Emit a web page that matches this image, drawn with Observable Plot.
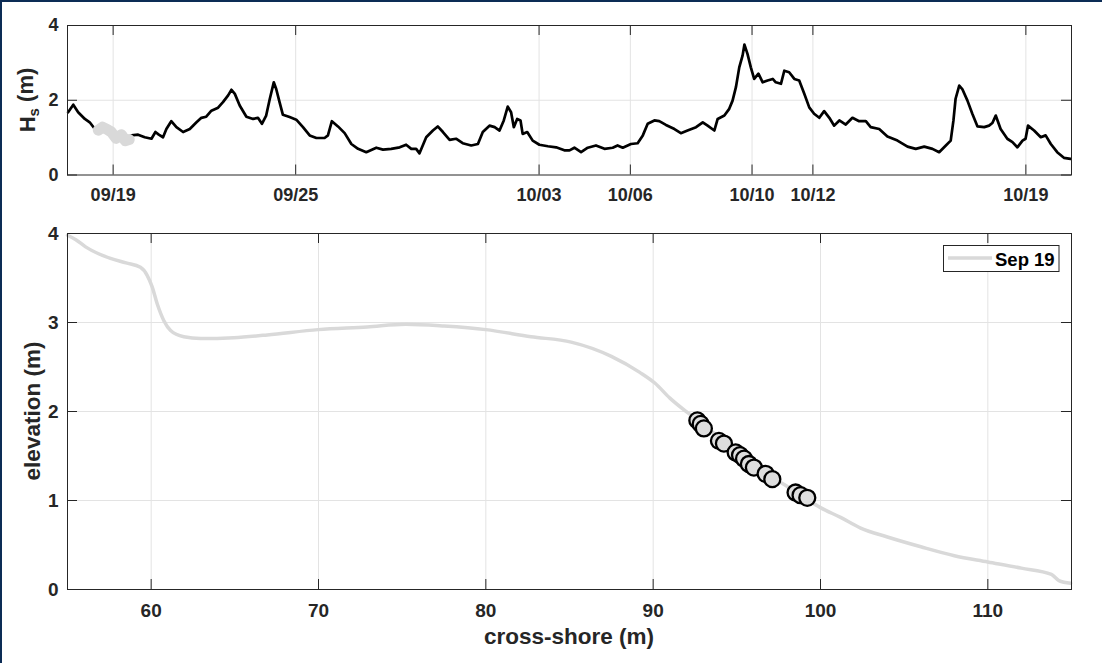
<!DOCTYPE html>
<html><head><meta charset="utf-8">
<script src="https://cdn.jsdelivr.net/npm/d3@7"></script>
<script src="https://cdn.jsdelivr.net/npm/@observablehq/plot@0.6"></script>
<style>
html,body{margin:0;padding:0;background:#fff;}
#wrap{position:relative;width:1102px;height:663px;overflow:hidden;background:#fff;}
#wrap svg{position:absolute;left:0;}
.bt{position:absolute;left:0;top:0;width:1102px;height:2px;background:#0c2c55;}
.bl{position:absolute;left:0;top:0;width:2px;height:663px;background:#0c2c55;}
</style></head><body><div id="wrap"></div><script>
// ---- data ----
// significant wave height time series: days since 2019-09-01 00:00 UTC, Hs (m)
const hsDays = [16.52,16.69,16.85,17.07,17.23,17.40,17.51,17.65,17.80,17.94,18.10,18.27,18.40,18.53,
 18.60,18.82,19.04,19.26,19.39,19.50,19.64,19.75,19.91,20.08,20.30,20.52,20.74,20.90,21.06,21.23,21.45,21.61,21.78,21.89,22.00,
 22.16,22.38,22.60,22.76,22.89,23.03,23.15,23.28,23.36,23.47,23.58,23.80,24.02,24.24,24.46,24.68,24.95,25.06,25.19,25.39,25.61,
 25.83,26.05,26.32,26.65,26.87,27.14,27.42,27.63,27.80,27.96,28.07,28.29,28.51,28.67,28.84,29.06,29.27,29.49,29.77,29.99,30.15,
 30.37,30.54,30.70,30.84,30.97,31.08,31.17,31.28,31.39,31.46,31.61,31.79,32.01,32.29,32.56,32.83,33.00,33.16,33.38,33.60,33.87,
 34.15,34.42,34.58,34.75,35.02,35.24,35.41,35.57,35.79,35.95,36.17,36.45,36.66,36.88,37.16,37.38,37.54,37.76,37.87,38.09,38.25,
 38.36,38.47,38.58,38.69,38.75,38.85,38.96,39.07,39.21,39.35,39.51,39.68,39.78,39.95,40.06,40.22,40.39,40.55,40.72,40.88,41.04,
 41.21,41.37,41.54,41.70,41.87,42.08,42.30,42.52,42.74,42.90,43.18,43.45,43.78,44.11,44.38,44.66,44.93,45.15,45.37,45.53,45.62,
 45.69,45.81,45.91,46.08,46.24,46.41,46.63,46.79,46.90,47.01,47.17,47.39,47.56,47.72,47.89,47.99,48.07,48.27,48.49,48.65,48.82,
 49.03,49.25,49.47];
const hsValues = [1.68,1.88,1.68,1.50,1.41,1.23,1.20,1.28,1.22,1.15,0.98,1.08,0.92,0.95,
 1.06,1.08,1.01,0.97,1.15,1.08,1.01,1.23,1.44,1.28,1.15,1.23,1.41,1.53,1.56,1.72,1.80,1.95,2.13,2.28,2.17,
 1.86,1.56,1.50,1.53,1.37,1.59,2.04,2.48,2.30,1.95,1.61,1.55,1.48,1.28,1.06,0.99,0.99,1.06,1.44,1.30,1.12,
 0.83,0.70,0.61,0.73,0.68,0.70,0.74,0.81,0.70,0.70,0.58,1.01,1.19,1.30,1.15,0.94,0.97,0.85,0.79,0.83,1.15,
 1.32,1.28,1.19,1.46,1.83,1.68,1.28,1.50,1.46,1.10,1.15,0.92,0.81,0.77,0.74,0.66,0.66,0.73,0.61,0.73,0.79,
 0.70,0.73,0.79,0.73,0.83,0.85,1.06,1.37,1.46,1.44,1.34,1.23,1.12,1.19,1.28,1.41,1.32,1.19,1.50,1.59,1.77,
 1.99,2.35,2.88,3.20,3.49,3.24,2.88,2.57,2.71,2.48,2.53,2.57,2.48,2.44,2.79,2.75,2.57,2.53,2.17,1.81,1.64,
 1.53,1.71,1.53,1.32,1.46,1.35,1.53,1.44,1.44,1.28,1.23,1.03,0.92,0.76,0.70,0.76,0.70,0.61,0.79,0.92,1.46,
 2.04,2.39,2.30,1.99,1.64,1.30,1.28,1.32,1.39,1.59,1.23,0.97,0.88,0.74,0.92,0.97,1.32,1.19,1.01,1.06,0.83,
 0.61,0.46,0.43];
const profileWindow = [17.5, 18.56];         // days highlighted (Sep 19 profile)
const timeDomain = [16.5, 49.5];
const dateTickLabels = ["09/19","09/25","10/03","10/06","10/10","10/12","10/19"];
const hsTicks = [0, 2, 4];

// beach profile: cross-shore (m), elevation (m)
const profileX = [55.0,55.5,56.08,57.57,58.5,59.36,59.76,60.06,60.36,60.76,61.16,61.95,62.95,64.94,66.94,69.98,72.91,75.2,77.5,80.0,
 82.7,85.1,87.5,89.2,90.1,91.0,91.9,92.7,94.0,95.5,97.0,98.5,99.3,100.0,101.2,102.4,104.0,106.0,108.0,110.0,112.0,113.8,114.25,114.95];
const profileZ = [3.98,3.93,3.85,3.72,3.67,3.62,3.53,3.40,3.21,3.02,2.91,2.84,2.82,2.83,2.86,2.92,2.95,2.98,2.96,2.92,
 2.84,2.78,2.62,2.44,2.32,2.15,2.01,1.90,1.70,1.50,1.28,1.10,1.00,0.92,0.81,0.69,0.59,0.48,0.38,0.31,0.24,0.17,0.10,0.07];
// sensor / swash points
const pointX = [92.64,92.84,93.03,93.93,94.23,94.93,95.19,95.43,95.72,96.02,96.72,97.12,98.51,98.81,99.21];
const pointZ = [1.90,1.86,1.81,1.67,1.64,1.54,1.51,1.47,1.41,1.37,1.30,1.24,1.09,1.06,1.03];
const xTicks = [60, 70, 80, 90, 100, 110];
const zTicks = [0, 1, 2, 3, 4];
const legendLabel = "Sep 19";

// ---- helpers ----
const t0 = Date.UTC(2019, 8, 1);
const toDate = d => new Date(t0 + d * 864e5);
const hs = hsDays.map((d, i) => ({t: toDate(d), day: d, v: hsValues[i]}));
const hsWin = hs.filter(p => p.day >= profileWindow[0] && p.day <= profileWindow[1]);
const dateTicks = dateTickLabels.map(s => d3.utcParse("%Y/%m/%d")("2019/" + s));
const profile = profileX.map((x, i) => ({x, z: profileZ[i]}));
const pts = pointX.map((x, i) => ({x, z: pointZ[i]}));

const FONT = "'Liberation Sans', Arial, Helvetica, sans-serif";
const INK = "#262626";
const GRID = "#e3e3e3";
const LIGHT = "#d9d9d9";
const W = 1102, ML = 67, MR = 31;
const PW = W - ML - MR;
const TL = 10; // inward tick length
const intFmt = d3.format("d");

// ---- top panel ----
const topH = 212, topMT = 25, topMB = 37.5;
const topPH = topH - topMT - topMB;
const topChart = Plot.plot({
  width: W, height: topH,
  marginLeft: ML, marginRight: MR, marginTop: topMT, marginBottom: topMB,
  x: {type: "utc", domain: timeDomain.map(toDate)},
  y: {domain: [0, 4]},
  style: {fontFamily: FONT, fontSize: "18px", fontWeight: "bold", color: INK, background: "transparent"},
  marks: [
    Plot.ruleX(dateTicks, {stroke: GRID, strokeWidth: 1}),
    Plot.ruleY([2], {stroke: GRID, strokeWidth: 1.2}),
    Plot.line(hs, {x: "t", y: "v", stroke: "black", strokeWidth: 2.7, strokeLinejoin: "round"}),
    Plot.line(hsWin, {x: "t", y: "v", stroke: LIGHT, strokeWidth: 11, strokeLinecap: "round", strokeLinejoin: "round"}),
    Plot.ruleX(dateTicks, {insetTop: topPH - TL, stroke: INK}),
    Plot.ruleX(dateTicks, {insetBottom: topPH - TL, stroke: INK}),
    Plot.ruleY(hsTicks, {insetRight: PW - TL, stroke: INK}),
    Plot.ruleY(hsTicks, {insetLeft: PW - TL, stroke: INK}),
    Plot.frame({stroke: INK, strokeWidth: 1}),
    Plot.axisX({ticks: dateTicks, tickFormat: d3.utcFormat("%m/%d"), tickSize: 0, tickPadding: 13.5, label: null, fontSize: 18, fontWeight: "bold", fill: INK}),
    Plot.axisY({ticks: hsTicks, tickFormat: intFmt, tickSize: 0, tickPadding: 9, label: null, fontSize: 18, fontWeight: "bold", fill: INK})
  ]
});
topChart.style.top = "0px";

// ---- bottom panel ----
const botTop = 212, botH = 451, botMT = 21, botMB = 74;
const botPH = botH - botMT - botMB;
const botChart = Plot.plot({
  width: W, height: botH,
  marginLeft: ML, marginRight: MR, marginTop: botMT, marginBottom: botMB,
  x: {domain: [55, 115]},
  y: {domain: [0, 4]},
  style: {fontFamily: FONT, fontSize: "19px", fontWeight: "bold", color: INK, background: "transparent"},
  marks: [
    Plot.ruleX(xTicks, {stroke: GRID, strokeWidth: 1}),
    Plot.ruleY(zTicks.slice(1, -1), {stroke: GRID, strokeWidth: 1}),
    Plot.line(profile, {x: "x", y: "z", stroke: LIGHT, strokeWidth: 3.5, curve: "monotone-x"}),
    Plot.dot(pts, {x: "x", y: "z", r: 8, fill: "#dedede", stroke: "black", strokeWidth: 2.3}),
    Plot.ruleX(xTicks, {insetTop: botPH - TL, stroke: INK}),
    Plot.ruleX(xTicks, {insetBottom: botPH - TL, stroke: INK}),
    Plot.ruleY(zTicks, {insetRight: PW - TL, stroke: INK}),
    Plot.ruleY(zTicks, {insetLeft: PW - TL, stroke: INK}),
    Plot.frame({stroke: INK, strokeWidth: 1}),
    Plot.axisX({ticks: xTicks, tickFormat: intFmt, tickSize: 0, tickPadding: 13.5, label: null, fontSize: 19, fontWeight: "bold", fill: INK}),
    Plot.axisY({ticks: zTicks, tickFormat: intFmt, tickSize: 0, tickPadding: 9, label: null, fontSize: 19, fontWeight: "bold", fill: INK})
  ]
});
botChart.style.top = botTop + "px";

const wrap = document.getElementById("wrap");
wrap.appendChild(topChart);
wrap.appendChild(botChart);

// axis titles
const ts = d3.select(topChart);
const hl = ts.append("text")
  .attr("transform", "translate(27,100) rotate(-90)")
  .attr("text-anchor", "middle").attr("dy", "0.35em")
  .attr("font-family", FONT).attr("font-size", 22).attr("font-weight", "bold").attr("fill", INK);
hl.append("tspan").text("H");
hl.append("tspan").text("s").attr("font-size", 15).attr("dy", "0.3em");
hl.append("tspan").text(" (m)").attr("dy", "-0.3em");

const bs = d3.select(botChart);
bs.append("text")
  .attr("transform", "translate(32," + (411 - botTop) + ") rotate(-90)")
  .attr("text-anchor", "middle").attr("dy", "0.35em")
  .attr("font-family", FONT).attr("font-size", 22.5).attr("font-weight", "bold").attr("fill", INK)
  .text("elevation (m)");
bs.append("text")
  .attr("x", ML + PW / 2).attr("y", 643.5 - botTop)
  .attr("text-anchor", "middle")
  .attr("font-family", FONT).attr("font-size", 22.5).attr("font-weight", "bold").attr("fill", INK)
  .text("cross-shore (m)");

// legend
const lg = bs.append("g");
lg.append("rect").attr("x", 943.5).attr("y", 245.5 - botTop).attr("width", 115.5).attr("height", 26)
  .attr("fill", "white").attr("stroke", INK).attr("stroke-width", 1);
lg.append("line").attr("x1", 948).attr("x2", 992).attr("y1", 258 - botTop).attr("y2", 258 - botTop)
  .attr("stroke", LIGHT).attr("stroke-width", 3.5);
lg.append("text").attr("x", 995).attr("y", 265.5 - botTop).attr("text-anchor", "start")
  .attr("font-family", FONT).attr("font-size", 18.5).attr("font-weight", "bold").attr("fill", "black")
  .text(legendLabel);

// outer frame edges
const b1 = document.createElement("div"); b1.className = "bt"; wrap.appendChild(b1);
const b2 = document.createElement("div"); b2.className = "bl"; wrap.appendChild(b2);
</script></body></html>
